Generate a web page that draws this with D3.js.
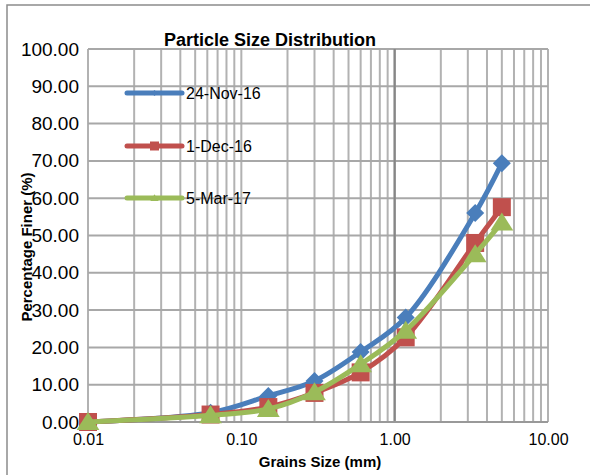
<!DOCTYPE html>
<html><head><meta charset="utf-8">
<script src="https://cdn.jsdelivr.net/npm/d3@7"></script>
<style>body{margin:0;background:#fff} svg{display:block}</style>
</head><body><svg id="c" width="590" height="475"></svg>
<script>
const sizes = [0.01, 0.063, 0.15, 0.3, 0.6, 1.18, 3.35, 5.0];
const nov16 = [0, 2.5, 7.0, 11.0, 18.8, 28.0, 56.0, 69.4];
const dec16 = [0, 2.0, 4.0, 7.8, 13.3, 22.7, 48.0, 57.6];
const mar17 = [0, 1.8, 3.5, 8.0, 15.5, 24.5, 45.0, 53.5];
const seriesNames = ["24-Nov-16", "1-Dec-16", "5-Mar-17"];
const yTicks = [0, 10, 20, 30, 40, 50, 60, 70, 80, 90, 100];
const xTicks = [0.01, 0.1, 1, 10];

const svg = d3.select("#c");
const F = "'Liberation Sans', Arial, sans-serif";
const L = 88, R = 548, T = 49, B = 422;
const x = d3.scaleLog().domain([0.01, 10]).range([L, R]);
const y = d3.scaleLinear().domain([0, 100]).range([B, T]);

// outer chart border
svg.append("rect").attr("x", 7).attr("y", 5).attr("width", 620).attr("height", 500)
  .attr("fill", "none").attr("stroke", "#8c8c8c").attr("stroke-width", 1.5);

// gridlines
const g = svg.append("g");
g.selectAll("line.v").data(x.ticks()).join("line")
  .attr("x1", d => x(d)).attr("x2", d => x(d)).attr("y1", T).attr("y2", B)
  .attr("stroke", "#b2b2b2").attr("stroke-width", 2);
g.selectAll("line.h").data(yTicks).join("line")
  .attr("x1", L).attr("x2", R).attr("y1", d => y(d)).attr("y2", d => y(d))
  .attr("stroke", "#a8a8a8").attr("stroke-width", 2);
// vertical axis crossing at 1
g.append("line").attr("x1", x(1)).attr("x2", x(1)).attr("y1", T).attr("y2", B)
  .attr("stroke", "#868686").attr("stroke-width", 2.2);
g.append("line").attr("x1", L).attr("x2", R).attr("y1", B).attr("y2", B)
  .attr("stroke", "#999").attr("stroke-width", 2);

// y axis labels
const yAxis = d3.axisLeft(y).tickValues(yTicks).tickFormat(d3.format(".2f")).tickSize(0).tickPadding(9);
svg.append("g").attr("transform", `translate(${L},0)`).call(yAxis)
  .call(s => s.select(".domain").remove())
  .selectAll("text").attr("font-family", F).attr("font-size", 19).attr("fill", "#000");
// x axis labels
const xAxis = d3.axisBottom(x).tickValues(xTicks).tickFormat(d3.format(".2f")).tickSize(0).tickPadding(12);
svg.append("g").attr("transform", `translate(0,${B})`).call(xAxis)
  .call(s => s.select(".domain").remove())
  .selectAll("text").attr("font-family", F).attr("font-size", 16).attr("fill", "#000");

// titles
svg.append("text").attr("x", 270).attr("y", 46).attr("text-anchor", "middle")
  .attr("font-family", F).attr("font-weight", "bold").attr("font-size", 18).text("Particle Size Distribution");
svg.append("text").attr("x", 320).attr("y", 467).attr("text-anchor", "middle")
  .attr("font-family", F).attr("font-weight", "bold").attr("font-size", 15).text("Grains Size (mm)");
svg.append("text").attr("transform", "translate(32,247) rotate(-90)").attr("text-anchor", "middle")
  .attr("font-family", F).attr("font-weight", "bold").attr("font-size", 15).text("Percentage Finer (%)");

// series
const colors = ["#4a7ebb", "#c0504d", "#9bbb59"];
const allVals = [nov16, dec16, mar17];
const shapes = [
  s => `M0,${-s}L${s},0L0,${s}L${-s},0Z`,
  s => `M${-s},${-s}H${s}V${s}H${-s}Z`,
  s => `M0,${-s * 1.05}L${s * 1.2},${s * 0.85}L${-s * 1.2},${s * 0.85}Z`
];
const markSize = [9, 9, 9.5];
const line = d3.line().x(d => x(d[0])).y(d => y(d[1])).curve(d3.curveCatmullRom.alpha(0.5));
allVals.forEach((vals, i) => {
  const pts = sizes.map((s, j) => [s, vals[j]]);
  const sg = svg.append("g");
  sg.append("path").datum(pts).attr("d", line).attr("fill", "none")
    .attr("stroke", colors[i]).attr("stroke-width", 5).attr("stroke-linejoin", "round");
  sg.selectAll("path.m").data(pts).join("path").attr("class", "m")
    .attr("transform", d => `translate(${x(d[0])},${y(d[1])})`)
    .attr("d", shapes[i](markSize[i])).attr("fill", colors[i]);
});

// legend
const legY = [93, 146, 198];
const legSize = [3, 4.5, 3.5];
seriesNames.forEach((n, i) => {
  const lg = svg.append("g").attr("transform", `translate(0,${legY[i]})`);
  lg.append("line").attr("x1", 127).attr("x2", 182).attr("y1", 0).attr("y2", 0)
    .attr("stroke", colors[i]).attr("stroke-width", 5).attr("stroke-linecap", "round");
  lg.append("path").attr("transform", "translate(154.5,0)").attr("d", shapes[i](legSize[i])).attr("fill", colors[i]);
  lg.append("text").attr("x", 186).attr("y", 0).attr("dy", "0.36em")
    .attr("font-family", F).attr("font-size", 16).text(n);
});
</script></body></html>
